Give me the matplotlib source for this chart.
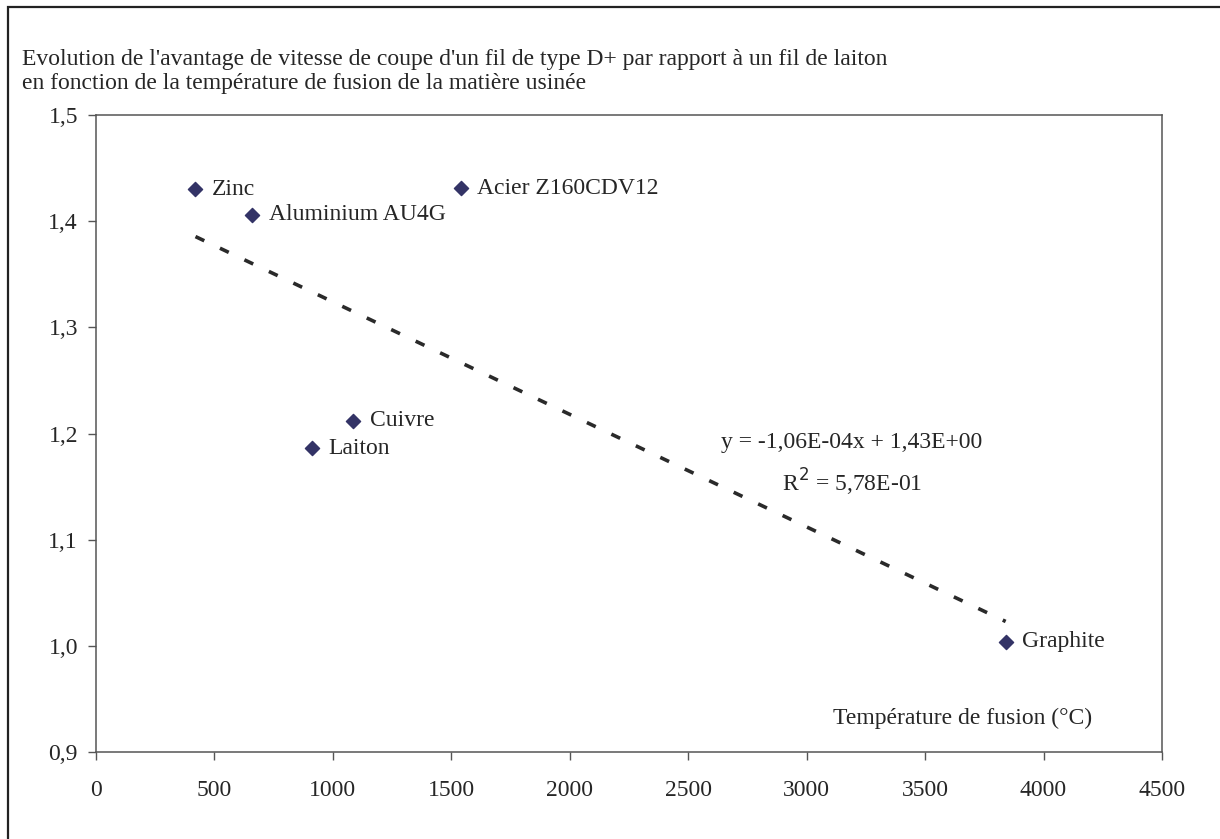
import numpy as np
import matplotlib
matplotlib.use("Agg")
import matplotlib.pyplot as plt
from matplotlib.patches import Rectangle
from matplotlib.ticker import FuncFormatter

# données
materials = ["Zinc", "Aluminium AU4G", "Acier Z160CDV12", "Cuivre", "Laiton", "Graphite"]
melting_temp = [420, 660, 1540, 1085, 910, 3840]
speed_gain = [1.430, 1.406, 1.431, 1.212, 1.186, 1.004]

# courbe de tendance (coefficients affichés)
slope = -1.06e-4
intercept = 1.43

x_ticks = list(range(0, 5000, 500))
y_ticks = [0.9, 1.0, 1.1, 1.2, 1.3, 1.4, 1.5]

plt.rcParams["font.family"] = ["Liberation Serif", "DejaVu Serif"]
plt.rcParams["lines.scale_dashes"] = False
text_col = "#262626"
fs = 17

W, H = 1220, 839


def fig_xy(px, py):
    # position en pixels (origine en haut à gauche) -> coordonnées figure
    return px / W, 1 - py / H


fig = plt.figure(figsize=(12.2, 8.39), dpi=100)
ax = fig.add_axes([96 / W, 87 / H, (1162 - 96) / W, (752 - 115) / H])

# cadre du graphique
fig.patches.append(Rectangle((8 / W, -0.1), 1.2, 0.1 + (H - 7) / H,
                             transform=fig.transFigure, fill=False,
                             edgecolor="#222222", linewidth=1.6))

ax.scatter(melting_temp, speed_gain, marker="D", s=52, color="#333366", zorder=3)

xt = np.array([min(melting_temp), max(melting_temp)])
ax.plot(xt, slope * xt + intercept, color="#2a2a2a", linewidth=2.6,
        dashes=(7, 12.5), dash_capstyle="butt", zorder=2)

for name, x, y in zip(materials, melting_temp, speed_gain):
    ax.annotate(name, (x, y), xytext=(12, 0), textcoords="offset points",
                ha="left", va="center", fontsize=fs, color=text_col)

fig.text(*fig_xy(852, 442), "y = -1,06E-04x + 1,43E+00", fontsize=fs,
         color=text_col, ha="center", va="center")
fig.text(*fig_xy(852, 482), "R$^2$ = 5,78E-01", fontsize=fs,
         color=text_col, ha="center", va="center")

fig.text(*fig_xy(1092, 718), "Température de fusion (°C)", fontsize=fs,
         color=text_col, ha="right", va="center")

fig.text(*fig_xy(22, 59),
         "Evolution de l'avantage de vitesse de coupe d'un fil de type D+ par rapport à un fil de laiton",
         fontsize=fs, color=text_col, ha="left", va="center")
fig.text(*fig_xy(22, 84),
         "en fonction de la température de fusion de la matière usinée",
         fontsize=fs, color=text_col, ha="left", va="center")

ax.set_xlim(0, 4500)
ax.set_ylim(0.9, 1.5)
ax.set_xticks(x_ticks)
ax.set_yticks(y_ticks)
ax.yaxis.set_major_formatter(FuncFormatter(lambda v, p: f"{v:.1f}".replace(".", ",")))
ax.tick_params(axis="both", direction="out", length=6, width=1, color="#555555",
               labelsize=fs, labelcolor=text_col)
ax.tick_params(axis="x", pad=14)
ax.tick_params(axis="y", pad=7)
for sp in ax.spines.values():
    sp.set_color("#555555")
    sp.set_linewidth(1.1)

fig.savefig("out.png", dpi=100)
